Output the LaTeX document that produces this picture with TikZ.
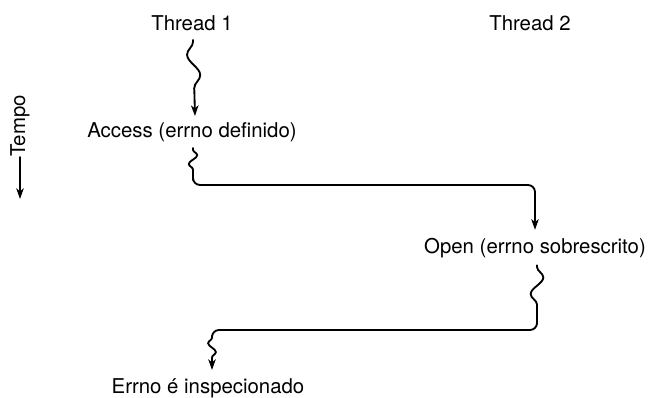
\documentclass[tikz,border=0pt]{standalone}
\usepackage{fontspec}
\setmainfont{TeX Gyre Heros}
\usetikzlibrary{positioning,calc,arrows.meta,decorations.pathmorphing}

\begin{document}
\begin{tikzpicture}[x=0.02cm, y=-0.02cm,
    txt/.style={font=\fontsize{11.6}{13}\selectfont, inner sep=0pt},
    line/.style={line width=1.05pt, line cap=round},
    tip/.style={-{Stealth[length=6pt,width=4.2pt,inset=1.6pt]}},
    wave/.style 2 args={decorate, decoration={snake, amplitude=#1, segment length=#2, pre length=1pt, post length=4pt}}]
    \useasboundingbox (0,0) rectangle (653,398);
    \node[txt] (thone) at (192,23) {Thread 1};
    \node[txt] (thtwo) at (530,23) {Thread 2};
    \node[txt] (access) at (192,132) {Access (errno definido)};
    \node[txt] (open) at (535,248) {Open (errno sobrescrito)};
    \node[txt] (errno) at (208,388) {Errno é inspecionado};
    \node[txt, rotate=90] (tempo) at (20,126) {Tempo};
    \coordinate (tend) at (20,199);
    \coordinate (w2) at (193,180);
    \coordinate (c1) at (193,185);
    \coordinate (w3) at (537,324);
    \coordinate (c2) at (537,330);
    \coordinate (c3) at (212,330);
    \coordinate (w4) at (212,336);
    \draw[line, tip] (tempo.west) -- (tend);
    \draw[line, tip, wave={3.6pt}{23.5pt}, decoration={mirror, post length=7pt}] ($(thone.south)+(1,9)$) -- ($(access.north)+(3,-6)$);
    \draw[line, wave={2.4pt}{10pt}] ($(access.south)+(1,6)$) -- (w2);
    \draw[line, tip, rounded corners=4pt] (w2) -- (c1) -- (c1 -| open) -- ($(open.north)+(0,-8)$);
    \draw[line, wave={3.6pt}{19pt}] ($(open.south)+(2,7)$) -- (w3);
    \draw[line, rounded corners=4pt] (w3) -- (c2) -- (c3) -- (w4);
    \draw[line, tip, wave={2.2pt}{10pt}, decoration={mirror, post length=6pt}] (w4) -- ($(errno.north)+(4,-8)$);
\end{tikzpicture}
\end{document}
